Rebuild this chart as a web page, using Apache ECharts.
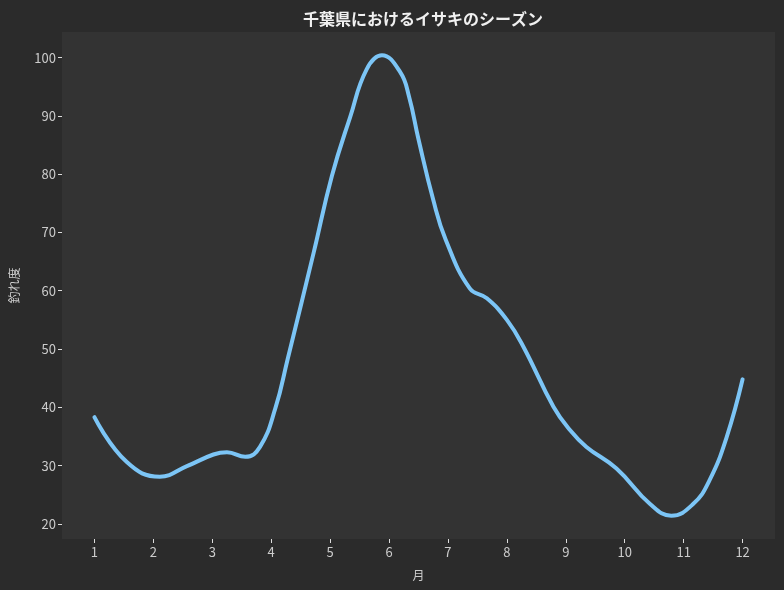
<!DOCTYPE html>
<html><head><meta charset="utf-8">
<script src="https://cdn.jsdelivr.net/npm/echarts@6/dist/echarts.min.js"></script>
<style>html,body{margin:0;padding:0;background:#2b2b2b;}#c{width:784px;height:590px;}</style>
</head><body><div id="c"></div>
<script>
const title = '千葉県におけるイサキのシーズン';
const xName = '月';
const yName = '釣れ度';
const xTicks = [1,2,3,4,5,6,7,8,9,10,11,12];
const yTicks = [20,30,40,50,60,70,80,90,100];
const months = [1.00,1.55,2.11,2.57,3.02,3.25,3.56,3.81,4.07,4.28,4.72,5.03,5.34,5.62,5.88,6.19,6.34,6.50,6.75,6.96,7.37,7.66,8.00,8.28,8.79,9.07,9.35,9.86,10.43,10.79,11.16,11.44,11.73,12.00];
const values = [38.3,30.6,28.1,29.9,31.9,32.3,31.5,33.2,39.8,48.3,66.5,79.7,89.8,98.0,100.4,97.5,93.3,86.0,75.6,68.8,60.4,58.7,55.0,50.4,40.1,36.1,33.2,29.5,23.4,21.4,23.4,27.5,34.9,44.8];

const font = '"Noto Sans CJK JP", "DejaVu Sans", sans-serif';
const chart = echarts.init(document.getElementById('c'), null, {renderer:'canvas'});
chart.setOption({
  backgroundColor: '#2b2b2b',
  animation: false,
  title: {text: title, left: 418, top: 6, textAlign: 'center',
    textStyle: {color: '#f0f0f0', fontSize: 16, fontWeight: 'bold', fontFamily: font}},
  grid: {left: 61, right: 9, top: 32, bottom: 51, show: true, backgroundColor: '#333333', borderWidth: 0},
  xAxis: {type: 'value', min: 0.45, max: 12.55,
    name: xName, nameLocation: 'middle', nameGap: 30,
    nameTextStyle: {color: '#cccccc', fontSize: 12, fontFamily: font},
    axisLine: {show: false}, splitLine: {show: false},
    axisTick: {show: true, length: 4, inside: false, customValues: xTicks, lineStyle: {color: '#dddddd', width: 1}},
    axisLabel: {customValues: xTicks, color: '#cccccc', fontSize: 13, fontFamily: font, margin: 7}},
  yAxis: {type: 'value', min: 17.4, max: 104.4,
    name: yName, nameLocation: 'middle', nameGap: 42, nameRotate: 90,
    nameTextStyle: {color: '#cccccc', fontSize: 12, fontFamily: font},
    axisLine: {show: false}, splitLine: {show: false},
    axisTick: {show: true, length: 4, inside: false, customValues: yTicks, lineStyle: {color: '#dddddd', width: 1}},
    axisLabel: {customValues: yTicks, color: '#cccccc', fontSize: 13, fontFamily: font, margin: 6}},
  series: [{type: 'line', data: months.map((m,i)=>[m, values[i]]), smooth: 0.45, showSymbol: false,
    lineStyle: {color: '#7cc5f6', width: 4, cap: 'round'}}]
});
</script></body></html>
